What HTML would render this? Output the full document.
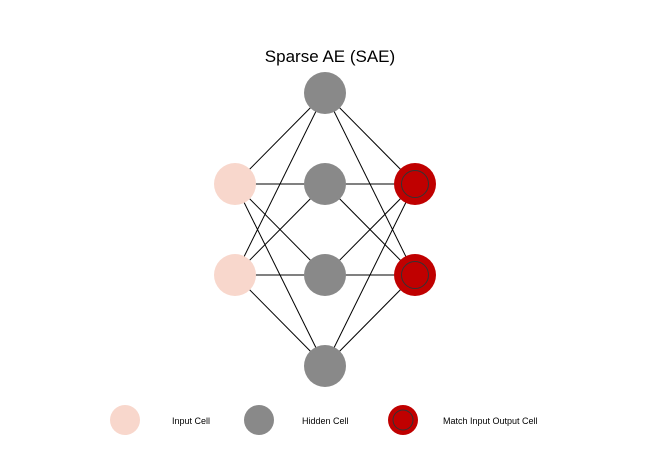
<!DOCTYPE html>
<html><head><meta charset="utf-8"><style>body{margin:0;background:#fff}svg{display:block}</style></head>
<body>
<svg width="650" height="460" xmlns="http://www.w3.org/2000/svg" font-family="Liberation Sans, sans-serif">
<text x="330" y="62" font-size="17" text-anchor="middle" fill="#000">Sparse AE (SAE)</text>
<g stroke="#000" stroke-width="1">
<line x1="235" y1="184" x2="325" y2="93"/><line x1="235" y1="184" x2="325" y2="184"/><line x1="235" y1="184" x2="325" y2="275"/><line x1="235" y1="184" x2="325" y2="366"/>
<line x1="235" y1="275" x2="325" y2="93"/><line x1="235" y1="275" x2="325" y2="184"/><line x1="235" y1="275" x2="325" y2="275"/><line x1="235" y1="275" x2="325" y2="366"/>
<line x1="415" y1="184" x2="325" y2="93"/><line x1="415" y1="184" x2="325" y2="184"/><line x1="415" y1="184" x2="325" y2="275"/><line x1="415" y1="184" x2="325" y2="366"/>
<line x1="415" y1="275" x2="325" y2="93"/><line x1="415" y1="275" x2="325" y2="184"/><line x1="415" y1="275" x2="325" y2="275"/><line x1="415" y1="275" x2="325" y2="366"/>
</g>
<g fill="#f8d7cc"><circle cx="235" cy="184" r="21"/><circle cx="235" cy="275" r="21"/></g>
<g fill="#898989"><circle cx="325" cy="93" r="21"/><circle cx="325" cy="184" r="21"/><circle cx="325" cy="275" r="21"/><circle cx="325" cy="366" r="21"/></g>
<g fill="#c00000"><circle cx="415" cy="184" r="21"/><circle cx="415" cy="275" r="21"/></g>
<g fill="none" stroke="#333" stroke-width="1"><circle cx="415" cy="184" r="13.5"/><circle cx="415" cy="275" r="13.5"/></g>
<circle cx="125" cy="420" r="15" fill="#f8d7cc"/>
<circle cx="259" cy="420" r="15" fill="#898989"/>
<circle cx="403" cy="420" r="15" fill="#c00000"/>
<circle cx="403" cy="420" r="10" fill="none" stroke="#333" stroke-width="1"/>
<g font-size="9" fill="#000">
<text x="172" y="424">Input Cell</text>
<text x="302" y="424">Hidden Cell</text>
<text x="443" y="424">Match Input Output Cell</text>
</g>
</svg>
</body></html>
